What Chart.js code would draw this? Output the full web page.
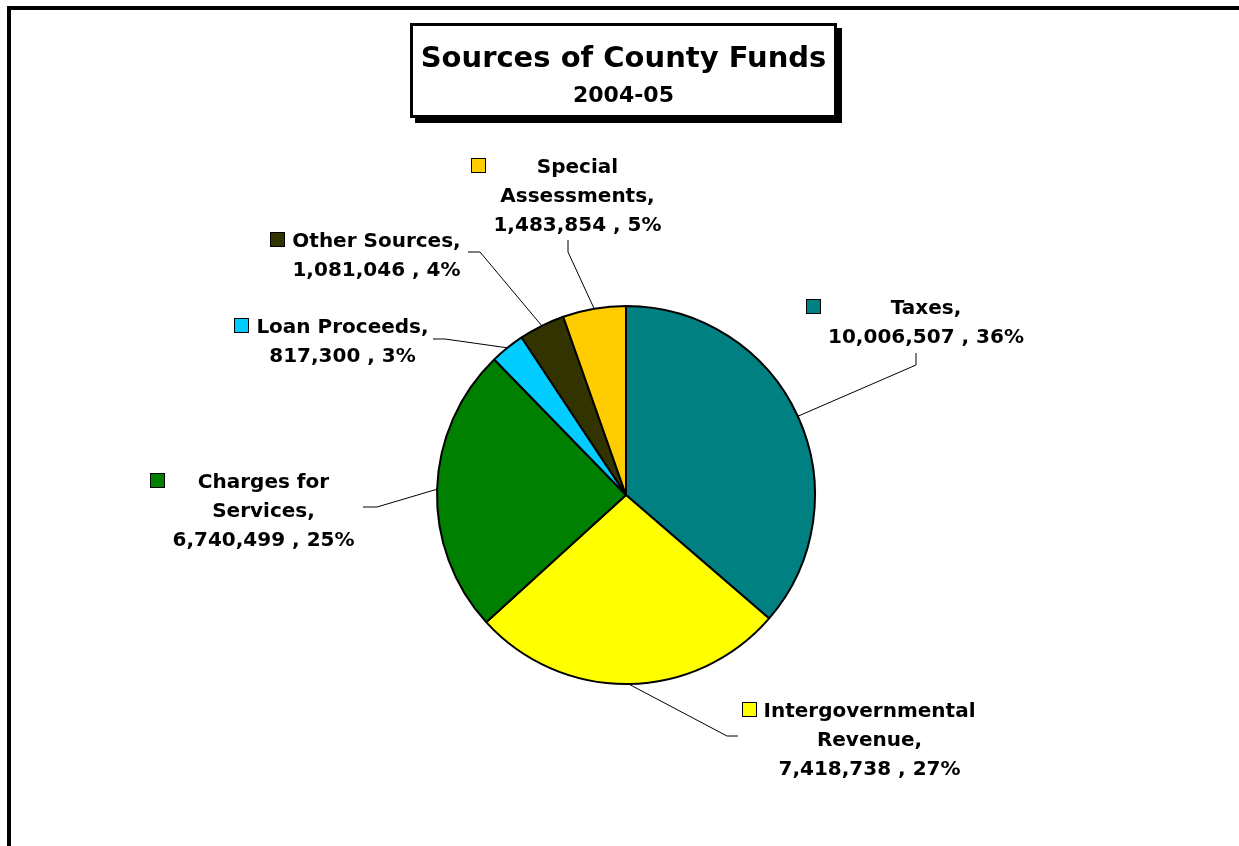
<!DOCTYPE html>
<html>
<head>
<meta charset="utf-8">
<script src="https://cdn.jsdelivr.net/npm/chart.js@4.4.0/dist/chart.umd.min.js"></script>
<style>
  html, body { margin: 0; padding: 0; background: #fff; overflow: hidden; }
  body { width: 1239px; height: 846px; position: relative; font-family: "DejaVu Sans", sans-serif; }
  #frame { position: absolute; left: 7px; top: 6px; width: 1300px; height: 900px; border: 4px solid #000; box-sizing: border-box; }
  #titleBox { position: absolute; left: 410px; top: 23px; width: 427px; height: 95px; border: 3px solid #000; box-sizing: border-box; background: #fff; box-shadow: 5px 5px 0 #000; }
  #titleBox .t1 { position: absolute; left: 0; right: 0; top: 17px; height: 29px; line-height: 29px; text-align: center; font-weight: bold; font-size: 29px; color: #000; }
  #titleBox .t2 { position: absolute; left: 0; right: 0; top: 58px; height: 22px; line-height: 22px; text-align: center; font-weight: bold; font-size: 22px; color: #000; }
  canvas { position: absolute; left: 0; top: 0; }
</style>
</head>
<body>
<div id="frame"></div>
<canvas id="myChart" width="1239" height="846"></canvas>
<div id="titleBox">
  <div class="t1">Sources of County Funds</div>
  <div class="t2">2004-05</div>
</div>
<script>
const categories = [
  'Taxes',
  'Intergovernmental Revenue',
  'Charges for Services',
  'Loan Proceeds',
  'Other Sources',
  'Special Assessments',
];
const amounts = [10006507, 7418738, 6740499, 817300, 1081046, 1483854];
// percentages as printed on the chart (they are rounded to add up to 100)
const percents = [36, 27, 25, 3, 4, 5];
// break the name before its last word
const breakName = [false, true, true, false, false, true];

const colors = ['#008080', '#FFFF00', '#008000', '#00CCFF', '#333300', '#FFCC00'];

// label placement, offsets from pie centre (px at radius 189)
// dx,dy = block centre / first line centre, a = leader start, e = elbow
const labelLayout = [
  { dx: 300, dy: -188.5, ax: 290, ay: -142, ex: 290, ey: -130 },
  { dx: 243.5, dy: 214, ax: 112, ay: 241, ex: 101, ey: 241 },
  { dx: -362.5, dy: -15, ax: -263, ay: 12, ex: -249, ey: 12 },
  { dx: -283.5, dy: -169.5, ax: -193, ay: -156, ex: -181, ey: -156 },
  { dx: -249.5, dy: -256, ax: -158, ay: -243, ex: -146, ey: -243 },
  { dx: -48.5, dy: -329.5, ax: -58, ay: -255, ex: -58, ey: -243 },
];

function labelLines(i) {
  const name = categories[i];
  const tail = amounts[i].toLocaleString('en-US') + ' , ' + percents[i] + '%';
  if (breakName[i]) {
    const k = name.lastIndexOf(' ');
    return [name.slice(0, k), name.slice(k + 1) + ',', tail];
  }
  return [name + ',', tail];
}

const pieLabels = {
  id: 'pieLabels',
  afterDatasetsDraw(chart) {
    const ctx = chart.ctx;
    const arcs = chart.getDatasetMeta(0).data;
    ctx.save();
    ctx.font = 'bold 20px "DejaVu Sans"';
    ctx.textBaseline = 'alphabetic';
    arcs.forEach((arc, i) => {
      const p = arc.getProps(['x', 'y', 'startAngle', 'endAngle', 'outerRadius'], true);
      const k = p.outerRadius / 189;
      const mid = (p.startAngle + p.endAngle) / 2;
      const px = p.x + Math.cos(mid) * p.outerRadius;
      const py = p.y + Math.sin(mid) * p.outerRadius;
      const L = labelLayout[i];

      // leader line
      ctx.strokeStyle = '#000';
      ctx.lineWidth = 1;
      ctx.beginPath();
      ctx.moveTo(p.x + L.ax * k, p.y + L.ay * k);
      ctx.lineTo(p.x + L.ex * k, p.y + L.ey * k);
      ctx.lineTo(px, py);
      ctx.stroke();

      // text block
      const lines = labelLines(i);
      const bx = p.x + L.dx * k;
      const by = p.y + L.dy * k;
      const w = Math.max(...lines.map(s => ctx.measureText(s).width));
      ctx.fillStyle = '#000';
      ctx.textAlign = 'center';
      lines.forEach((s, j) => {
        ctx.fillText(s, bx, by + 7.5 + j * 29);
      });

      // legend key
      const kx = Math.round(bx - w / 2 - 7 - 15);
      const ky = Math.round(by - 7.5);
      ctx.fillStyle = colors[i];
      ctx.fillRect(kx, ky, 15, 15);
      ctx.strokeRect(kx + 0.5, ky + 0.5, 14, 14);
    });
    ctx.restore();
  }
};

const data = {
  labels: categories,
  datasets: [{
    data: amounts,
    backgroundColor: colors,
    borderColor: '#000',
    borderWidth: 2,
    hoverOffset: 0,
  }]
};

const config = {
  type: 'pie',
  data: data,
  options: {
    responsive: false,
    animation: false,
    events: [],
    layout: {
      padding: { left: 436, right: 423, top: 305, bottom: 161 }
    },
    plugins: {
      legend: { display: false },
      title: { display: false },
      tooltip: { enabled: false }
    }
  },
  plugins: [pieLabels]
};

const myChart = new Chart(
  document.getElementById('myChart'),
  config
);
</script>
</body>
</html>
